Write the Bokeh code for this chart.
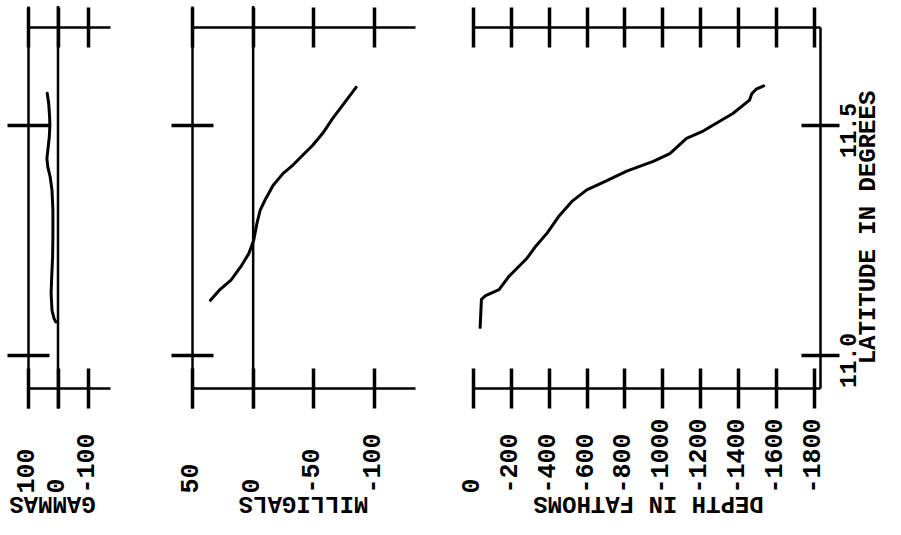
from math import pi
from bokeh.plotting import figure
from bokeh.models import Range1d, LinearAxis, FixedTicker, ColumnDataSource
from bokeh.core.properties import value
from bokeh.embed import file_html
from bokeh.resources import INLINE

# ---------------- data ----------------
gamma_lat = [11.570, 11.548, 11.519, 11.501, 11.475, 11.446, 11.428, 11.410, 11.388,
             11.359, 11.316, 11.258, 11.214, 11.171, 11.135, 11.098, 11.080, 11.073]
gamma_val = [36, 31, 28, 27, 29, 34, 37, 34, 26, 20, 17, 17, 18, 21, 23, 20, 13, 7]

mgal_lat = [11.120, 11.142, 11.164, 11.193, 11.222, 11.251, 11.287, 11.316, 11.338,
            11.370, 11.396, 11.414, 11.436, 11.457, 11.483, 11.515, 11.548, 11.583]
mgal_val = [35.2, 27.9, 18.3, 10.2, 3.5, -0.5, -3.1, -5.8, -9.8, -16.5, -24.7, -32.8,
            -41.0, -49.1, -57.3, -65.4, -74.9, -84.8]

depth_lat = [11.061, 11.122, 11.130, 11.143, 11.172, 11.212, 11.237, 11.266, 11.302,
             11.335, 11.360, 11.380, 11.401, 11.422, 11.439, 11.472, 11.488, 11.526,
             11.555, 11.569, 11.579, 11.586]
depth_val = [-35, -42, -64, -135, -187, -284, -328, -389, -450, -520, -599, -705, -810,
             -950, -1038, -1126, -1214, -1371, -1459, -1471, -1494, -1534]

gamma_ticks = [100, 0, -100]
gamma_tick_labels = ["100", "0", "-100"]
mgal_ticks = [50, 0, -50, -100]
mgal_tick_labels = ["50", "0", "-50", "-100"]
depth_ticks = [0, -200, -400, -600, -800, -1000, -1200, -1400, -1600, -1800]
depth_tick_labels = ["0", "-200", "-400", "-600", "-800", "-1000", "-1200", "-1400",
                     "-1600", "-1800"]
lat_ticks = [11.0, 11.5]
lat_tick_labels = ["11.0", "11.5"]

gamma_title = "GAMMAS"
mgal_title = "MILLIGALS"
depth_title = "DEPTH IN FATHOMS"
lat_title = "LATITUDE IN DEGREES"

zero_line = 0
gamma_axis_end = -175
mgal_axis_end = -134
depth_axis_end = -1835

# ---------------- layout (pixel anchors) ----------------
W, H = 885, 519
M = 0


def lat_at(py):
    return 11.0 + (355.0 - py) / 460.0


def make_x(v_a, px_a, v_b, px_b):
    def f(px):
        return v_a + (px - px_a) * (v_b - v_a) / (px_b - px_a)
    return f


gam_at = make_x(100, 27.5, -100, 87.5)
mgal_at = make_x(50, 192.0, -100, 374.0)
depth_at = make_x(0, 473.0, -1800, 813.5)

TOP_PY, BOT_PY = 26.5, 388.0
lat_top, lat_bot = lat_at(TOP_PY), lat_at(BOT_PY)
lat_top_ext, lat_bot_ext = lat_at(TOP_PY - 21), lat_at(BOT_PY + 20)

p = figure(width=W, height=H,
           x_range=Range1d(depth_at(M), depth_at(M + W)),
           y_range=Range1d(lat_at(M + H), lat_at(M)),
           x_axis_type=None, y_axis_type=None, min_border=0,
           toolbar_location=None, output_backend="svg",
           outline_line_color=None, background_fill_color="white",
           border_fill_color="white")
p.extra_x_ranges = {"gam": Range1d(gam_at(M), gam_at(M + W)),
                    "mgal": Range1d(mgal_at(M), mgal_at(M + W))}


def styled(ax, tick_len):
    ax.axis_line_width = 2.5
    ax.axis_line_color = "black"
    ax.major_tick_line_width = 3.5
    ax.major_tick_line_color = "black"
    ax.major_tick_in = tick_len
    ax.major_tick_out = tick_len
    ax.minor_tick_line_color = None
    ax.major_label_text_color = None
    return ax


# horizontal (value) axes at top and bottom of each panel
for rname, ticks, end in [("gam", gamma_ticks, gamma_axis_end),
                          ("mgal", mgal_ticks, mgal_axis_end),
                          ("default", depth_ticks, depth_axis_end)]:
    for loc, side in [(lat_top, "above"), (lat_bot, "below")]:
        ax = LinearAxis(x_range_name=rname, fixed_location=loc,
                        ticker=FixedTicker(ticks=ticks), bounds=(ticks[0], end))
        p.add_layout(styled(ax, 20), side)

# latitude axes
for rname, loc in [("gam", gamma_ticks[0]), ("mgal", mgal_ticks[0])]:
    ax = LinearAxis(x_range_name=rname, fixed_location=loc,
                    ticker=FixedTicker(ticks=lat_ticks), bounds=(lat_bot_ext, lat_top_ext))
    p.add_layout(styled(ax, 21), "left")
ax = LinearAxis(x_range_name="default", fixed_location=depth_axis_end,
                ticker=FixedTicker(ticks=lat_ticks), bounds=(lat_bot, lat_top))
p.add_layout(styled(ax, 19), "right")

# zero lines
for rname in ["gam", "mgal"]:
    p.segment(x0=[zero_line], y0=[lat_bot_ext], x1=[zero_line], y1=[lat_top_ext],
              x_range_name=rname, line_width=2.5, line_color="black")

# profiles
for rname, xs, ys in [("gam", gamma_val, gamma_lat), ("mgal", mgal_val, mgal_lat),
                      ("default", depth_val, depth_lat)]:
    p.line(xs, ys, x_range_name=rname, line_width=3, line_color="black",
           line_join="round", line_cap="round")

FONT = value("Liberation Mono")

# tick labels (rotated, bottom aligned)
for rname, ticks, labels in [("gam", gamma_ticks, gamma_tick_labels),
                             ("mgal", mgal_ticks, mgal_tick_labels),
                             ("default", depth_ticks, depth_tick_labels)]:
    src = ColumnDataSource(dict(x=ticks, y=[lat_at(493)] * len(ticks), t=labels))
    p.text(x="x", y="y", text="t", source=src, x_range_name=rname, angle=pi / 2,
           text_align="left", text_baseline="middle", x_offset=-3,
           text_font=FONT, text_font_style="bold", text_font_size="25px",
           text_color="black")

# axis titles (upside down)
for rname, xpos, title in [("gam", gam_at(52), gamma_title),
                           ("mgal", mgal_at(303), mgal_title),
                           ("default", depth_at(648), depth_title)]:
    src = ColumnDataSource(dict(x=[xpos], y=[lat_at(503)], t=[title]))
    p.text(x="x", y="y", text="t", source=src, x_range_name=rname, angle=pi,
           text_align="center", text_baseline="middle",
           text_font=FONT, text_font_style="bold", text_font_size="24px",
           text_color="black")

# latitude labels
src = ColumnDataSource(dict(x=[depth_at(847)] * len(lat_ticks), y=lat_ticks, t=lat_tick_labels))
p.text(x="x", y="y", text="t", source=src, angle=pi / 2, y_offset=5,
       text_align="center", text_baseline="middle",
       text_font=FONT, text_font_style="bold", text_font_size="23px", text_color="black")
src = ColumnDataSource(dict(x=[depth_at(868)], y=[lat_at(227)], t=[lat_title]))
p.text(x="x", y="y", text="t", source=src, angle=pi / 2,
       text_align="center", text_baseline="middle",
       text_font=FONT, text_font_style="bold", text_font_size="24px", text_color="black")

open("out.html", "w").write(file_html(p, INLINE))
